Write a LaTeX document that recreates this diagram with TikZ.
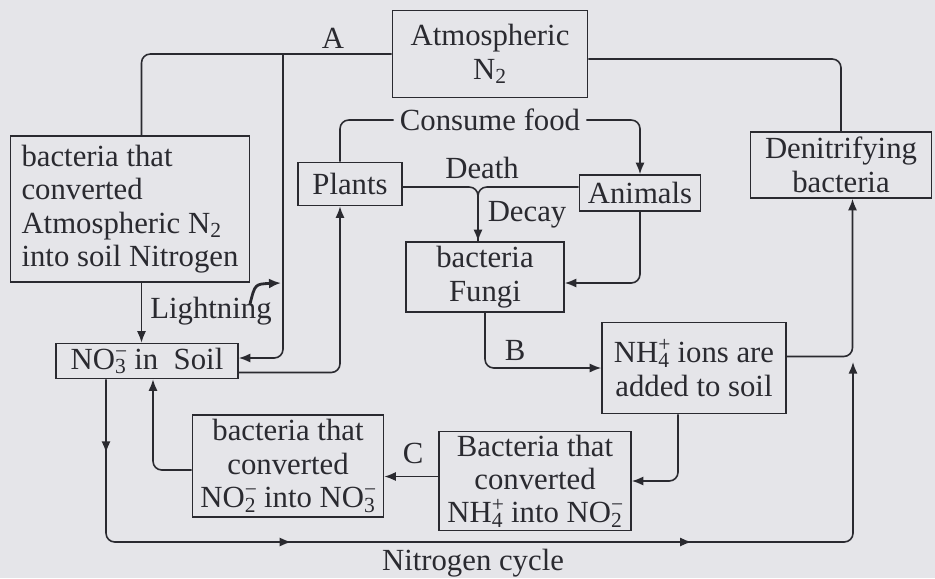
\documentclass[tikz,border=0pt]{standalone}
\usepackage{fontspec}
\setmainfont{Liberation Serif}
\usetikzlibrary{arrows.meta,positioning,decorations.markings}
\definecolor{ink}{RGB}{42,42,48}
\definecolor{paper}{RGB}{229,229,233}
\newcommand\ionss[2]{\rlap{\textsuperscript{#1}}\textsubscript{#2}}

\begin{document}
\begin{tikzpicture}[x=0.02cm,y=-0.02cm,color=ink,
 >={Latex[length=2.3mm,width=1.8mm]},
 every node/.style={font=\fontsize{17.5}{19}\selectfont},
 box/.style={draw,line width=0.9pt,align=center,inner sep=1pt},
 line/.style={draw,line width=0.9pt,rounded corners=5pt},
 arr/.style={line,->},
 cyclemarks/.style={postaction={decorate},decoration={markings,
   mark=at position 0.068 with {\arrow{Latex[length=2.3mm,width=1.8mm]}},
   mark=at position 0.318 with {\arrow{Latex[length=2.3mm,width=1.8mm]}},
   mark=at position 0.688 with {\arrow{Latex[length=2.3mm,width=1.8mm]}}}}]
    \path[fill=paper,use as bounding box] (0,0) rectangle (935,578);
    % boxes
    \node[box,minimum width=3.9cm,minimum height=1.74cm] (atm) at (490,54)
      {Atmospheric\\N\textsubscript{2}};
    \node[box,align=left,minimum width=4.78cm,minimum height=2.92cm] (fixer) at (130,209)
      {bacteria that\\converted\\Atmospheric N\textsubscript{2}\\into soil Nitrogen};
    \node[box,minimum width=2.08cm,minimum height=0.86cm] (plants) at (350,184) {Plants};
    \node[box,minimum width=2.42cm,minimum height=0.72cm] (animals) at (640,193) {Animals};
    \node[box,minimum width=3.16cm,minimum height=1.4cm] (fungi) at (485,277)
      {bacteria\\Fungi};
    \node[box,minimum width=3.62cm,minimum height=1.32cm] (denit) at (841,165)
      {Denitrifying\\bacteria};
    \node[box,minimum width=3.68cm,minimum height=1.82cm] (nh4) at (694,368)
      {NH\ionss{+}{4} ions are\\added to soil};
    \node[box,minimum width=3.64cm,minimum height=0.7cm] (no3) at (147,361)
      {NO\ionss{−}{3} in\ \ Soil};
    \node[box,minimum width=3.82cm,minimum height=2.04cm] (nitrite) at (288,466)
      {bacteria that\\converted\\NO\ionss{−}{2} into NO\ionss{−}{3}};
    \node[box,minimum width=3.84cm,minimum height=1.98cm] (ammon) at (535,481)
      {Bacteria that\\converted\\NH\ionss{+}{4} into NO\ionss{−}{2}};
    % labels
    \node (labA) at (333,38) {A};
    \node (food) at (490,120) {Consume food};
    \node (death) at (482,168) {Death};
    \node (decay) at (527,215) {Decay};
    \node (light) at (211,311) {Lightning};
    \node (labB) at (515,350) {B};
    \node (labC) at (413,453) {C};
    \node (title) at (473,563) {Nitrogen cycle};
    % connectors
    \coordinate (jA) at (283,55);
    \coordinate (dj) at (478,187);
    \coordinate (ltail) at (250,304);
    \coordinate (lhead) at (281,283);
    \coordinate (cycBR) at (853,542);
    \coordinate (cycEnd) at (853,362);
    \draw[line] (atm.west) -| ([xshift=0.23cm]fixer.north);
    \draw[arr] (jA) |- ([yshift=0.06cm]no3.east);
    \draw[arr] ([xshift=0.23cm]fixer.south) -- ([xshift=0.23cm]fixer.south |- no3.north);
    \draw[line width=1.6pt,-{Latex[length=2.4mm,width=2mm]}]
      (ltail) .. controls (255,284) .. (lhead);
    \draw[arr] ([yshift=-0.23cm]no3.east) -| ([xshift=-0.2cm]plants.south);
    \draw[line] ([xshift=-0.2cm]plants.north) |- (food.west);
    \draw[arr] (food.east) -| (animals.north);
    \draw[arr] (plants.east |- dj) -| (dj |- fungi.north);
    \draw[line] (animals.west |- dj) -| (dj |- fungi.north);
    \draw[arr] (animals.south) |- ([yshift=-0.12cm]fungi.east);
    \draw[arr] (fungi.south) |- (nh4.west);
    \draw[arr] ([yshift=0.23cm]nh4.east) -| ([xshift=0.23cm]denit.south);
    \draw[line] ([yshift=-0.1cm]atm.east) -| (denit.north);
    \draw[arr] ([xshift=-0.32cm]nh4.south) |- (ammon.east);
    \draw[arr] ([yshift=0.09cm]ammon.west) -- ([yshift=0.09cm]ammon.west -| nitrite.east);
    \draw[arr] ([yshift=-0.08cm]nitrite.west) -| ([xshift=0.12cm]no3.south);
    \draw[arr,cyclemarks] ([xshift=-0.82cm]no3.south) |- (cycBR) -- (cycEnd);
\end{tikzpicture}
\end{document}
